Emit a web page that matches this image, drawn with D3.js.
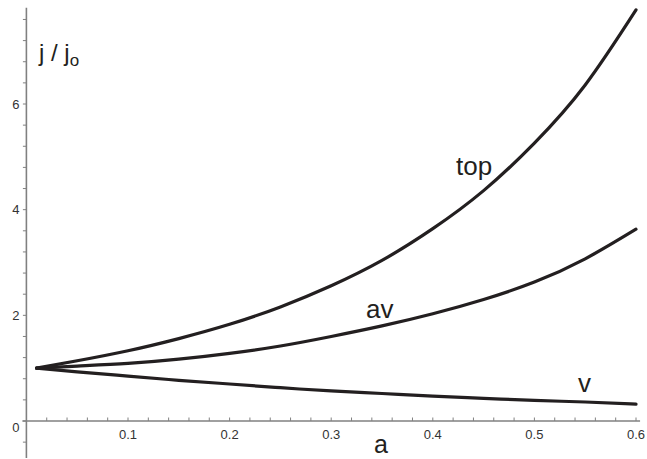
<!DOCTYPE html>
<html>
<head>
<meta charset="utf-8">
<script src="https://cdn.jsdelivr.net/npm/d3@7"></script>
<style>
  body { margin: 0; background: #fff; }
  text { font-family: "Liberation Sans", Arial, sans-serif; }
</style>
</head>
<body>
<svg id="chart" width="647" height="459"></svg>
<script>
// values
var aValues   = [0.01, 0.05, 0.10, 0.15, 0.20, 0.25, 0.30, 0.35, 0.40, 0.45, 0.50, 0.55, 0.60];
var topValues = [1.00, 1.14, 1.33, 1.56, 1.83, 2.16, 2.56, 3.04, 3.64, 4.36, 5.26, 6.36, 7.78];
var avValues  = [1.00, 1.04, 1.09, 1.17, 1.28, 1.42, 1.60, 1.80, 2.03, 2.30, 2.63, 3.07, 3.63];
var vValues   = [1.00, 0.93, 0.85, 0.77, 0.70, 0.63, 0.57, 0.52, 0.47, 0.43, 0.39, 0.36, 0.32];

var xTickLabels = [0.1, 0.2, 0.3, 0.4, 0.5, 0.6];
var yTickLabels = [0, 2, 4, 6];

var svg = d3.select("#chart");

var x = d3.scaleLinear().domain([0, 0.6]).range([26.4, 636]);
var y = d3.scaleLinear().domain([0, 6]).range([421, 104]);

var axisColor = "#808080";

// y axis
var yMinor = d3.range(-4, 20).map(function (i) { return i * 0.4; });
var gy = svg.append("g").attr("transform", "translate(" + x(0) + ",0)");
gy.append("line")
    .attr("y1", y(7.82)).attr("y2", y(-0.7))
    .attr("stroke", axisColor).attr("stroke-width", 1.6);
gy.selectAll("line.tick").data(yMinor).enter().append("line")
    .attr("class", "tick")
    .attr("x1", -3.5).attr("x2", 0)
    .attr("y1", function (d) { return y(d); })
    .attr("y2", function (d) { return y(d); })
    .attr("stroke", axisColor).attr("stroke-width", 1);
gy.selectAll("text").data(yTickLabels).enter().append("text")
    .attr("x", -7)
    .attr("y", function (d) { return y(d) + (d === 0 ? 6 : 0); })
    .attr("dy", "0.36em")
    .attr("text-anchor", "end")
    .attr("font-size", 13)
    .attr("fill", "#333")
    .text(function (d) { return d; });

// x axis
var xMinor = d3.range(1, 31).map(function (i) { return i * 0.02; });
var gx = svg.append("g").attr("transform", "translate(0," + y(0) + ")");
gx.append("line")
    .attr("x1", x(0) - 4).attr("x2", x(0.604))
    .attr("stroke", axisColor).attr("stroke-width", 1.6);
gx.selectAll("line.tick").data(xMinor).enter().append("line")
    .attr("class", "tick")
    .attr("x1", function (d) { return x(d); })
    .attr("x2", function (d) { return x(d); })
    .attr("y1", -3.5).attr("y2", 0)
    .attr("stroke", axisColor).attr("stroke-width", 1);
gx.selectAll("text").data(xTickLabels).enter().append("text")
    .attr("x", function (d) { return x(d); })
    .attr("y", 18)
    .attr("text-anchor", "middle")
    .attr("font-size", 13)
    .attr("fill", "#333")
    .text(function (d) { return d; });

// curves
var series = [topValues, avValues, vValues];
var line = d3.line()
    .x(function (d, i) { return x(aValues[i]); })
    .y(function (d) { return y(d); })
    .curve(d3.curveNatural);

svg.selectAll("path.curve").data(series).enter().append("path")
    .attr("class", "curve")
    .attr("d", line)
    .attr("fill", "none")
    .attr("stroke", "#231f20")
    .attr("stroke-width", 3.2)
    .attr("stroke-linecap", "round");

// labels
var ylab = svg.append("text").attr("x", 39).attr("y", 61)
    .attr("font-size", 24).attr("fill", "#231f20");
ylab.append("tspan").text("j / j");
ylab.append("tspan").attr("dy", 5).attr("font-size", 17).text("o");

svg.append("text").attr("x", 456).attr("y", 175)
    .attr("font-size", 26).attr("fill", "#231f20").text("top");
svg.append("text").attr("x", 366).attr("y", 318)
    .attr("font-size", 26).attr("fill", "#231f20").text("av");
svg.append("text").attr("x", 578).attr("y", 392)
    .attr("font-size", 26).attr("fill", "#231f20").text("v");
svg.append("text").attr("x", 374).attr("y", 453)
    .attr("font-size", 25).attr("fill", "#231f20").text("a");
</script>
</body>
</html>
